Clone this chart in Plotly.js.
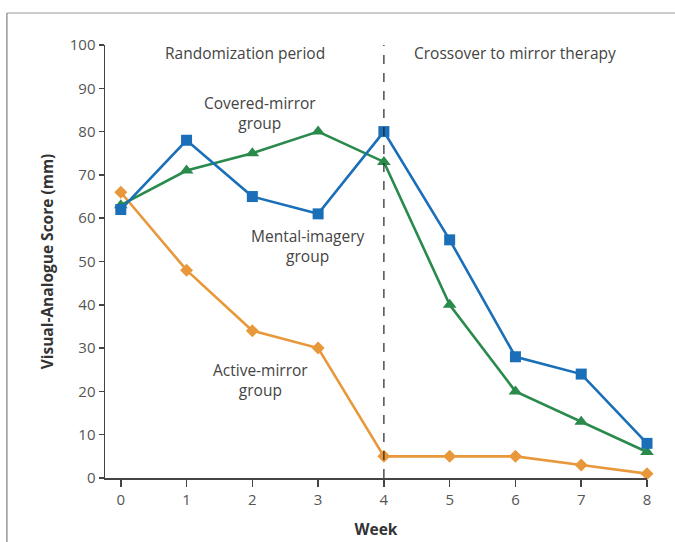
<!DOCTYPE html>
<html>
<head>
<meta charset="utf-8">
<script src="https://cdn.plot.ly/plotly-3.0.1.min.js"></script>
<style>html,body{margin:0;padding:0;background:#fff;}#chart{width:675px;height:542px;}</style>
</head>
<body>
<div id="chart"></div>
<script>
const weeks = [0, 1, 2, 3, 4, 5, 6, 7, 8];
const mentalImagery = [62, 78, 65, 61, 80, 55, 28, 24, 8];
const coveredMirror = [63, 71, 75, 80, 73, 40, 20, 13, 6];
const activeMirror = [66, 48, 34, 30, 5, 5, 5, 3, 1];
const yTicks = [0, 10, 20, 30, 40, 50, 60, 70, 80, 90, 100];

const FONT = "Open Sans, Noto Sans, sans-serif";
const BLUE = "#1a6fb8", GREEN = "#2a8a4c", ORANGE = "#e8983a";

const traces = [
  {x: weeks, y: activeMirror, name: "Active-mirror group", mode: "lines+markers",
   line: {color: ORANGE, width: 2.6}, marker: {symbol: "diamond", size: 10, color: ORANGE}, cliponaxis: false},
  {x: weeks, y: coveredMirror, name: "Covered-mirror group", mode: "lines+markers",
   line: {color: GREEN, width: 2.6}, marker: {symbol: "triangle-up", size: 12, color: GREEN}, cliponaxis: false},
  {x: weeks, y: mentalImagery, name: "Mental-imagery group", mode: "lines+markers",
   line: {color: BLUE, width: 2.6}, marker: {symbol: "square", size: 11, color: BLUE}, cliponaxis: false}
];

const annFont = {family: FONT, size: 15.5, color: "#444"};
const layout = {
  width: 675, height: 542,
  margin: {l: 105, r: 28, t: 45, b: 64},
  paper_bgcolor: "#fff", plot_bgcolor: "#fff",
  showlegend: false,
  font: {family: FONT},
  xaxis: {
    range: [-0.24, 8], tickvals: weeks, showgrid: false, zeroline: false,
    showline: true, linecolor: "#444", linewidth: 1.5,
    ticks: "outside", ticklen: 7, tickwidth: 1.5, tickcolor: "#444",
    tickfont: {family: FONT, size: 15, color: "#555"},
    title: {text: "Week", font: {family: FONT, size: 15.5, color: "#333", weight: "bold"}, standoff: 16}
  },
  yaxis: {
    range: [0, 100], tickvals: yTicks, showgrid: false, zeroline: false,
    showline: true, linecolor: "#444", linewidth: 1.5,
    ticks: "outside", ticklen: 5, tickwidth: 1.5, tickcolor: "#444",
    tickfont: {family: FONT, size: 15, color: "#555"},
    title: {text: "Visual-Analogue Score (mm)", font: {family: FONT, size: 15.5, color: "#333", weight: "bold"}, standoff: 12}
  },
  shapes: [
    {type: "line", xref: "x", yref: "y", x0: 4, x1: 4, y0: 0, y1: 101,
     line: {color: "#222", width: 1.2, dash: "dash"}},
    {type: "line", xref: "paper", yref: "paper", x0: -0.181, x1: 1.06, y0: 1.074, y1: 1.074,
     line: {color: "#bbb", width: 1.5}},
    {type: "line", xref: "paper", yref: "paper", x0: -0.181, x1: -0.181, y0: 1.074, y1: -0.16,
     line: {color: "#999", width: 1.5}}
  ],
  annotations: [
    {x: 1.89, y: 98.2, xref: "x", yref: "y", text: "Randomization period", showarrow: false, font: annFont},
    {x: 6.0, y: 98.2, xref: "x", yref: "y", text: "Crossover to mirror therapy", showarrow: false, font: annFont},
    {x: 2.12, y: 84.4, xref: "x", yref: "y", text: "Covered-mirror<br>group", showarrow: false, font: annFont},
    {x: 2.85, y: 53.6, xref: "x", yref: "y", text: "Mental-imagery<br>group", showarrow: false, font: annFont},
    {x: 2.12, y: 22.6, xref: "x", yref: "y", text: "Active-mirror<br>group", showarrow: false, font: annFont}
  ]
};

Plotly.newPlot("chart", traces, layout, {displayModeBar: false, staticPlot: true});
</script>
</body>
</html>
